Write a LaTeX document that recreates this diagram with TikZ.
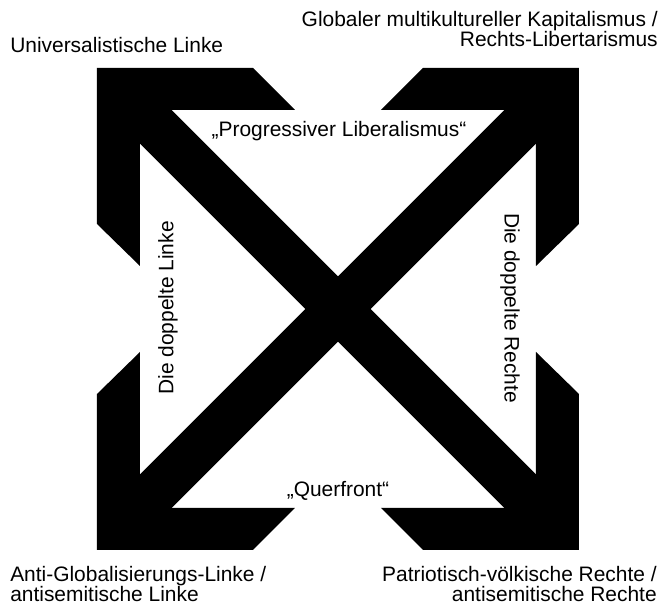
\documentclass[tikz,border=0pt]{standalone}
\usepackage{fontspec}
\setmainfont{Liberation Sans}
\usepackage{tikz}
\usetikzlibrary{positioning}

\begin{document}
\begin{tikzpicture}[
        x=0.75pt, y=0.75pt,
        shaft/.style={line width=34.5pt, shorten <=35pt, shorten >=35pt},
        label/.style={inner sep=0pt, font=\fontsize{15.7}{15}\selectfont},
        head/.pic={\fill (0,0) -- (156,0) -- (198,-42) -- (43,-42) -- (43,-198) -- (0,-156) -- cycle;}
    ]
    \useasboundingbox (-338,-301) rectangle (331,309);

    % Ecken
    \coordinate (tl) at (-241,241);
    \coordinate (tr) at (241,241);
    \coordinate (bl) at (-241,-241);
    \coordinate (br) at (241,-241);

    % Pfeile
    \draw[shaft] (tl) -- (br);
    \draw[shaft] (tr) -- (bl);
    \pic at (tl) {head};
    \pic[xscale=-1] at (tr) {head};
    \pic[yscale=-1] at (bl) {head};
    \pic[xscale=-1, yscale=-1] at (br) {head};

    % Pole
    \node[label, anchor=base west] (ul) at (-328,256) {Universalistische Linke};
    \node[label, anchor=base east, align=right] (ur) at (320,262) {Globaler multikultureller Kapitalismus /\\Rechts-Libertarismus};
    \node[label, anchor=base west, align=left] (ll) at (-328,-293) {Anti-Globalisierungs-Linke /\\antisemitische Linke};
    \node[label, anchor=base east, align=right] (lr) at (319,-293) {Patriotisch-völkische Rechte /\\antisemitische Rechte};

    % Seiten
    \node[label, anchor=base] (top) at (1,172) {„Progressiver Liberalismus“};
    \node[label, anchor=base] (bottom) at (0,-188) {„Querfront“};
    \node[label, rotate=90] (left) at (-170,1) {Die doppelte Linke};
    \node[label, rotate=-90] (right) at (172,1) {Die doppelte Rechte};

\end{tikzpicture}
\end{document}
